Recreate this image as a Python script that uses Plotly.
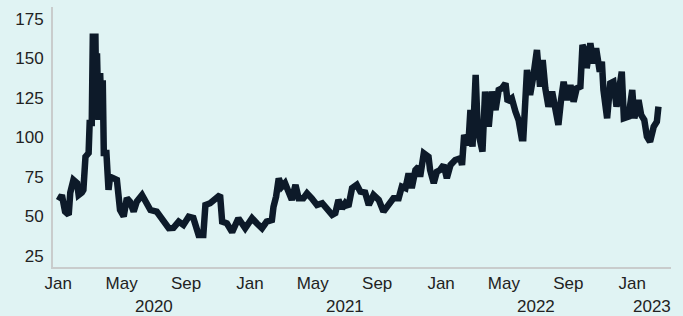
import plotly.graph_objects as go
import pandas as pd

START_DATE = "2020-01-01"

# day offsets from START_DATE and index values
days = [1, 7, 13, 20, 23, 29, 36, 39, 45, 48, 52, 58, 60, 64, 66, 71, 73, 74, 77, 80,
        83, 85, 87, 92, 96, 99, 106, 112, 118, 125, 131, 137, 144, 150, 160, 169, 176, 188,
        198, 211, 220, 230, 239, 249, 258, 264, 268, 277, 281, 290, 300, 309, 313, 322,
        332, 344, 357, 370, 379, 389, 398, 408,
        411, 416, 421, 427, 433, 440, 446, 453, 459, 468, 475, 484, 494, 504, 513, 523,
        529, 535, 542, 548, 554, 561, 570, 577, 586, 593, 602, 612, 621, 631, 640, 650,
        656, 663, 669, 675, 682, 688, 691, 698, 707, 710, 717, 723, 729, 736, 742, 749,
        758, 768, 771,
        775, 783, 787, 791, 797, 801, 810, 815, 822, 828, 835, 841, 847, 854, 858, 866,
        873, 879, 885, 888, 895, 901, 907, 914, 920, 925, 930, 936, 943, 949, 955, 960,
        965, 971, 978, 984, 990, 997, 1001, 1008, 1009, 1016, 1022, 1027, 1034, 1038,
        1041, 1048, 1054, 1060, 1066, 1076, 1080, 1089, 1096, 1100, 1108, 1113, 1119,
        1124, 1130, 1137, 1143, 1146]

values = [60, 63.5, 53, 51, 65, 73, 71, 63.5, 65, 66.7, 87.7, 90, 109, 109, 163.5, 163.5,
          111, 153, 111, 140.5, 111, 136, 90, 90, 66.7, 75, 74, 73, 54, 50, 61.6, 59.3, 53,
          59.3, 63.5, 58.5, 54, 53,
          47.7, 42.5, 42.7, 46.7, 44.6, 49.8, 49, 43, 38.3, 38.3, 57.2, 58.3, 61.4, 63.5,
          46.7, 45.6, 40, 48.8, 42.5, 48.8, 45.6, 42.5, 46.7, 47.7,
          56, 62.5, 74, 68.8, 71, 65.6, 60.4, 69.9, 61.4, 61.4, 64.6, 61.4, 57.2, 58.3, 55,
          50.9, 52, 60.4, 55, 58.3, 56.1, 67.8, 69.9, 65.6, 65, 57.2, 63.5, 60.4, 53, 58.3,
          61.4, 61.4, 68.8, 67.8, 77.2, 67.8, 79.3, 81.4, 75, 89.9, 87.7, 79.3, 71, 78.2,
          79.3, 82.5, 74.1, 82.5, 85.6, 86.7, 82.5,
          101.4, 95, 117.2, 94, 139.4, 104.6, 90.9, 128.8, 106.7, 128.8, 117.2, 129.9,
          130.9, 134.1, 122.5, 124.6, 116.2, 110.9, 99.3, 99.3, 142.5, 126.7, 138.3, 155.1,
          132, 148.8, 130.9, 119.3, 128.8, 119.3, 107.8, 123.5, 135.1, 123.5, 133, 122.5,
          130.9, 132, 158.3, 152, 143.6, 159.4, 146.7, 156.2, 141.4, 147.7, 129.9, 112,
          134.1, 135.1, 119.3, 141.4, 112, 113, 129.9, 112, 123.5, 114.1, 110.9, 100.4,
          97.2, 106.7, 109.8, 119.3]

y_ticks = [25, 50, 75, 100, 125, 150, 175]
year_labels = ["2020", "2021", "2022", "2023"]
year_label_dates = ["2020-07-01", "2021-07-01", "2022-07-01", "2023-02-07"]

start = pd.Timestamp(START_DATE)
dates = [start + pd.Timedelta(days=d) for d in days]

BG = "#e0f3f3"
LINE = "#0d1a29"
TXT = "#222222"

fig = go.Figure(go.Scatter(x=dates, y=values, mode="lines",
                           line=dict(color=LINE, width=6.5), hoverinfo="skip"))

fig.update_layout(
    width=683, height=316,
    margin=dict(l=53, r=12, t=7, b=49, autoexpand=False),
    paper_bgcolor=BG, plot_bgcolor=BG,
    showlegend=False,
    font=dict(family="Liberation Sans, Arial, sans-serif", size=17, color=TXT),
)
fig.update_xaxes(
    range=["2019-12-22", "2023-03-16"],
    tickformat="%b", dtick="M4", tick0="2020-01-01",
    showgrid=False, zeroline=False, showline=True,
    linecolor="#c9cccc", linewidth=2, ticks="", automargin=False,
)
fig.update_yaxes(
    range=[18, 182.3], tickvals=y_ticks,
    showgrid=False, zeroline=False, showline=True,
    linecolor="#c9cccc", linewidth=2, ticks="", automargin=False,
    ticklabelstandoff=4,
)
for lab, d in zip(year_labels, year_label_dates):
    fig.add_annotation(x=d, y=-0.15, xref="x", yref="paper", text=lab,
                       showarrow=False, xanchor="center", yanchor="middle",
                       font=dict(size=17, color=TXT))

fig.write_html("out.html", config={"displayModeBar": False},
               post_script="document.body.style.margin='0';document.body.style.background='" + BG + "';")
